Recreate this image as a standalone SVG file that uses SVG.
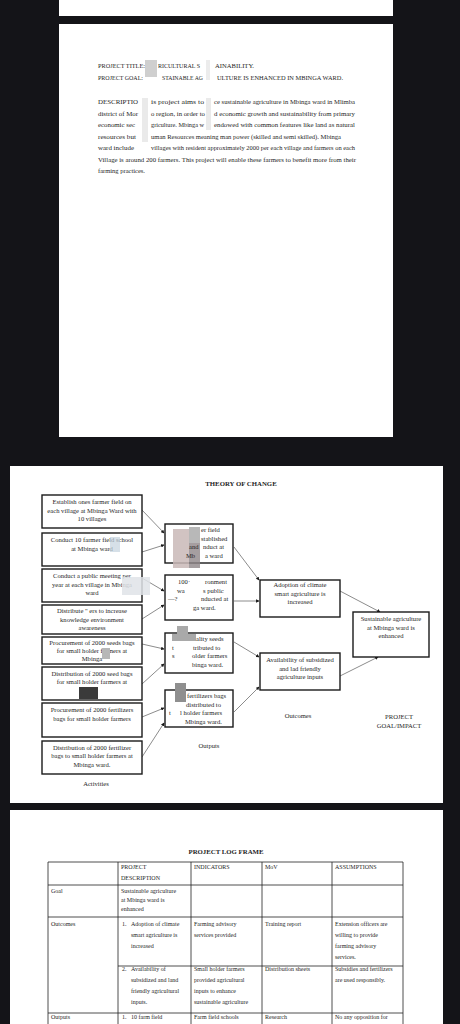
<svg xmlns="http://www.w3.org/2000/svg" width="460" height="1024" viewBox="0 0 460 1024">
<defs>
<style>
.pg{fill:#ffffff}
.t{font-family:"Liberation Serif","Times New Roman",serif;fill:#262626}
.p2{font-size:5.6px}
.b{font-size:6.6px;text-anchor:middle}
.bl{font-size:6.6px}
.hd{font-family:"Liberation Serif","Times New Roman",serif;font-weight:bold;font-size:6.8px;fill:#1e1e1e;text-anchor:middle}
.box{fill:#ffffff;stroke:#1a1a1a;stroke-width:1.4}
.con line{stroke:#6e6e6e;stroke-width:0.8;fill:none}
.tbl line{stroke:#222;stroke-width:0.8}
.tt{font-family:"Liberation Serif","Times New Roman",serif;font-size:6px;fill:#262626}
.blur{fill:#b9b9b9;opacity:0.75}
</style>
<marker id="ah" viewBox="0 0 6 6" refX="5" refY="3" markerWidth="3.5" markerHeight="3.5" orient="auto" markerUnits="userSpaceOnUse">
<path d="M0,0 L6,3 L0,6 z" fill="#1a1a1a"/>
</marker>
</defs>
<rect x="0" y="0" width="460" height="1024" fill="#141418"/>
<rect class="pg" x="59" y="0" width="334" height="16"/>
<rect class="pg" x="59" y="24" width="334" height="413"/>
<rect class="pg" x="10" y="466" width="433" height="337"/>
<rect class="pg" x="10" y="810" width="433" height="214"/>

<g id="page2-text">
<text class="t p2" x="98" y="68" textLength="47" lengthAdjust="spacingAndGlyphs">PROJECT TITLE:</text>
<text class="t p2" x="158" y="68" textLength="42" lengthAdjust="spacingAndGlyphs">RICULTURAL S</text>
<text class="t p2" x="215" y="68" textLength="39" lengthAdjust="spacingAndGlyphs">AINABILITY.</text>
<text class="t p2" x="98" y="80" textLength="45" lengthAdjust="spacingAndGlyphs">PROJECT GOAL:</text>
<text class="t p2" x="162" y="80" textLength="41" lengthAdjust="spacingAndGlyphs">STAINABLE AG</text>
<text class="t p2" x="217" y="80" textLength="126" lengthAdjust="spacingAndGlyphs">ULTURE IS ENHANCED IN MBINGA WARD.</text>
<rect x="145" y="60" width="12" height="17" fill="#cfcfcf"/>
<rect x="206" y="60" width="4" height="20" fill="#ececec"/>

<text class="t p2" x="98" y="104" textLength="40" lengthAdjust="spacingAndGlyphs">DESCRIPTIO</text>
<text class="t p2" x="151" y="104" textLength="53" lengthAdjust="spacingAndGlyphs">is project aims to</text>
<text class="t p2" x="214" y="104" textLength="141" lengthAdjust="spacingAndGlyphs">ce sustainable agriculture in Mbinga ward in Mlimba</text>
<text class="t p2" x="98" y="115.5" textLength="40" lengthAdjust="spacingAndGlyphs">district of Mor</text>
<text class="t p2" x="151" y="115.5" textLength="54" lengthAdjust="spacingAndGlyphs">o region, in order to</text>
<text class="t p2" x="214" y="115.5" textLength="141" lengthAdjust="spacingAndGlyphs">d economic growth and sustainability from primary</text>
<text class="t p2" x="98" y="127" textLength="37" lengthAdjust="spacingAndGlyphs">economic sec</text>
<text class="t p2" x="151" y="127" textLength="53" lengthAdjust="spacingAndGlyphs">griculture. Mbinga w</text>
<text class="t p2" x="214" y="127" textLength="141" lengthAdjust="spacingAndGlyphs">endowed with common features like land as natural</text>
<text class="t p2" x="98" y="138.5" textLength="38" lengthAdjust="spacingAndGlyphs">resources but</text>
<text class="t p2" x="151" y="138.5" textLength="190" lengthAdjust="spacingAndGlyphs">uman Resources meaning man power (skilled and semi skilled). Mbinga</text>
<text class="t p2" x="98" y="150" textLength="36" lengthAdjust="spacingAndGlyphs">ward include</text>
<text class="t p2" x="151" y="150" textLength="204" lengthAdjust="spacingAndGlyphs">villages with resident approximately 2000 per each village and farmers on each</text>
<text class="t p2" x="98" y="161.5" textLength="258" lengthAdjust="spacingAndGlyphs">Village is around 200 farmers. This project will enable these farmers to benefit more from their</text>
<text class="t p2" x="98" y="173" textLength="47" lengthAdjust="spacingAndGlyphs">farming practices.</text>
<rect x="142" y="98" width="6" height="44" fill="#dcdcdc" opacity="0.6"/>
<rect x="206" y="98" width="5" height="32" fill="#dcdcdc" opacity="0.6"/>
</g>

<text class="hd" x="241" y="486">THEORY OF CHANGE</text>

<g id="connectors" class="con">
<line x1="142" y1="510" x2="164" y2="533" marker-end="url(#ah)"/>
<line x1="142" y1="552" x2="164" y2="545" marker-end="url(#ah)"/>
<line x1="142" y1="578" x2="164" y2="591" marker-end="url(#ah)"/>
<line x1="142" y1="619" x2="164" y2="605" marker-end="url(#ah)"/>
<line x1="142" y1="644" x2="164" y2="649" marker-end="url(#ah)"/>
<line x1="142" y1="684" x2="164" y2="664" marker-end="url(#ah)"/>
<line x1="142" y1="717" x2="164" y2="708" marker-end="url(#ah)"/>
<line x1="142" y1="757" x2="164" y2="723" marker-end="url(#ah)"/>
<line x1="234" y1="547" x2="259" y2="580" marker-end="url(#ah)"/>
<line x1="234" y1="601" x2="259" y2="601" marker-end="url(#ah)"/>
<line x1="234" y1="642" x2="259" y2="657" marker-end="url(#ah)"/>
<line x1="234" y1="712" x2="259" y2="687" marker-end="url(#ah)"/>
<line x1="340" y1="591" x2="380" y2="612" marker-end="url(#ah)"/>
<line x1="340" y1="676" x2="378" y2="657" marker-end="url(#ah)"/>
</g>

<g id="act1"><rect class="box" x="42" y="495" width="100" height="33"/>
<text class="t b" x="92" y="504">Establish ones farmer  field on</text>
<text class="t b" x="92" y="512.5">each village  at Mbinga Ward with</text>
<text class="t b" x="92" y="521">10 villages</text></g>
<g id="act2"><rect class="box" x="42" y="533" width="100" height="33"/>
<text class="t b" x="92" y="542">Conduct  10  farmer field school</text>
<text class="t b" x="92" y="550.5">at Mbinga ward</text>
<rect x="110" y="537" width="10" height="15" fill="#c5d3de" opacity="0.7"/></g>
<g id="act3"><rect class="box" x="42" y="569" width="100" height="33"/>
<text class="t b" x="92" y="578">Conduct a public meeting per</text>
<text class="t b" x="92" y="586.5">year at  each village  in Mbinga</text>
<text class="t b" x="92" y="595">ward</text>
<rect x="122" y="577" width="28" height="18" fill="#dfe3e7" opacity="0.85"/></g>
<g id="act4"><rect class="box" x="42" y="605" width="100" height="29"/>
<text class="t b" x="92" y="613">Distribute  "  ers  to increase</text>
<text class="t b" x="92" y="621.5">knowledge  environment</text>
<text class="t b" x="92" y="629.5">awareness</text></g>
<g id="act5"><rect class="box" x="42" y="637" width="100" height="27"/>
<text class="t b" x="92" y="645">Procurement of  2000 seeds bags</text>
<text class="t b" x="92" y="653">for small holder farmers  at</text>
<text class="t b" x="92" y="661">Mbinga</text>
<rect x="102" y="648" width="8" height="11" fill="#b7b7b7"/></g>
<g id="act6"><rect class="box" x="42" y="667" width="100" height="33"/>
<text class="t b" x="92" y="675.5">Distribution of  2000 seed bags</text>
<text class="t b" x="92" y="684">for small  holder  farmers at</text>
<rect x="79" y="687" width="19" height="12" fill="#3a3a3a"/></g>
<g id="act7"><rect class="box" x="42" y="703" width="100" height="34"/>
<text class="t b" x="92" y="712">Procurement of  2000 fertilizers</text>
<text class="t b" x="92" y="720.5">bags  for  small holder farmers</text></g>
<g id="act8"><rect class="box" x="42" y="741" width="100" height="33"/>
<text class="t b" x="92" y="749.5">Distribution of 2000 fertilizer</text>
<text class="t b" x="92" y="758">bags  to small holder farmers at</text>
<text class="t b" x="92" y="766.5">Mbinga  ward.</text></g>
<text class="t b" x="96" y="786">Activities</text>

<g id="out1"><rect class="box" x="165" y="524" width="68" height="39"/>
<rect x="173" y="529" width="16" height="39" fill="#c9b9b7" opacity="0.85"/>
<rect x="189" y="527" width="11" height="41" fill="#8e8688" opacity="0.8"/>
<rect x="189" y="527" width="11" height="16" fill="#b8b8b8"/>
<text class="t bl" x="201" y="532">er field</text>
<text class="t bl" x="201" y="540.5">stablished</text>
<text class="t bl" x="189" y="549">and</text><text class="t bl" x="203" y="549">nduct at</text>
<text class="t bl" x="186" y="557.5">Mb</text><text class="t bl" x="205" y="557.5">a ward</text></g>
<g id="out2"><rect class="box" x="165" y="575" width="68" height="45"/>
<text class="t bl" x="178" y="584">100·</text><text class="t bl" x="205" y="584">ronment</text>
<text class="t bl" x="177" y="592.5">wa</text><text class="t bl" x="203" y="592.5">s public</text>
<text class="t bl" x="168" y="601">—?</text><text class="t bl" x="201" y="601">nducted at</text>
<text class="t bl" x="193" y="609.5">ga ward.</text></g>
<g id="out3"><rect class="box" x="165" y="633" width="68" height="40"/>
<rect x="177" y="626" width="11" height="15" fill="#a9a9a9"/>
<rect x="172" y="634" width="24" height="7" fill="#a9a9a9"/>
<text class="t bl" x="196" y="641">ality seeds</text>
<text class="t bl" x="172" y="649.5">t</text><text class="t bl" x="193" y="649.5">tributed to</text>
<text class="t bl" x="172" y="658">s</text><text class="t bl" x="192" y="658">older farmers</text>
<text class="t bl" x="192" y="666.5">binga ward.</text></g>
<g id="out4"><rect class="box" x="165" y="690" width="68" height="37"/>
<rect x="175" y="683" width="11" height="19" fill="#8f8f8f"/>
<text class="t bl" x="187" y="698">fertilizers bags</text>
<text class="t bl" x="186" y="706.5">distributed to</text>
<text class="t bl" x="169" y="715">t</text><text class="t bl" x="180" y="715">l holder farmers</text>
<text class="t bl" x="185" y="723.5">Mbinga ward.</text></g>
<text class="t b" x="209" y="748">Outputs</text>

<g id="outc1"><rect class="box" x="260" y="580" width="80" height="37"/>
<text class="t b" x="300" y="587">Adoption of climate</text>
<text class="t b" x="300" y="595.5">smart agriculture is</text>
<text class="t b" x="300" y="604">increased</text></g>
<g id="outc2"><rect class="box" x="260" y="653" width="80" height="37"/>
<text class="t b" x="300" y="662">Availability of subsidized</text>
<text class="t b" x="300" y="670.5">and lad friendly</text>
<text class="t b" x="300" y="679">agriculture inputs</text></g>
<text class="t b" x="298" y="718">Outcomes</text>

<g id="goal"><rect class="box" x="353" y="612" width="76" height="45"/>
<text class="t b" x="391" y="621">Sustainable  agriculture</text>
<text class="t b" x="391" y="629.5">at  Mbinga ward is</text>
<text class="t b" x="391" y="638">enhanced</text></g>
<text class="t b" x="399" y="719">PROJECT</text>
<text class="t b" x="399" y="727.5">GOAL/IMPACT</text>

<text class="hd" x="226" y="854">PROJECT LOG FRAME</text>
<g id="logframe">
<g class="tbl">
<line x1="48" y1="862" x2="403" y2="862"/>
<line x1="48" y1="885" x2="403" y2="885"/>
<line x1="48" y1="917" x2="403" y2="917"/>
<line x1="118" y1="966" x2="403" y2="966"/>
<line x1="48" y1="1013" x2="403" y2="1013"/>
<line x1="48" y1="862" x2="48" y2="1024"/>
<line x1="118" y1="862" x2="118" y2="1024"/>
<line x1="191" y1="862" x2="191" y2="1024"/>
<line x1="262" y1="862" x2="262" y2="1024"/>
<line x1="332" y1="862" x2="332" y2="1024"/>
<line x1="403" y1="862" x2="403" y2="1024"/>
</g>
<text class="tt" x="121" y="869">PROJECT</text>
<text class="tt" x="121" y="880">DESCRIPTION</text>
<text class="tt" x="194" y="869">INDICATORS</text>
<text class="tt" x="265" y="869">MoV</text>
<text class="tt" x="335" y="869">ASSUMPTIONS</text>
<text class="tt" x="51" y="893">Goal</text>
<text class="tt" x="121" y="893">Sustainable  agriculture</text>
<text class="tt" x="121" y="902">at Mbinga  ward is</text>
<text class="tt" x="121" y="911">enhanced</text>
<text class="tt" x="51" y="926">Outcomes</text>
<text class="tt" x="122" y="926">1.</text>
<text class="tt" x="131" y="926">Adoption of climate</text>
<text class="tt" x="131" y="937">smart agriculture is</text>
<text class="tt" x="131" y="948">increased</text>
<text class="tt" x="194" y="926">Farming advisory</text>
<text class="tt" x="194" y="937">services  provided</text>
<text class="tt" x="265" y="926">Training report</text>
<text class="tt" x="335" y="926">Extension officers are</text>
<text class="tt" x="335" y="937">willing to provide</text>
<text class="tt" x="335" y="948">farming advisory</text>
<text class="tt" x="335" y="959">services.</text>
<text class="tt" x="122" y="971">2.</text>
<text class="tt" x="131" y="971">Availability of</text>
<text class="tt" x="131" y="982">subsidized and land</text>
<text class="tt" x="131" y="993">friendly agricultural</text>
<text class="tt" x="131" y="1004">inputs.</text>
<text class="tt" x="194" y="971">Small holder farmers</text>
<text class="tt" x="194" y="982">provided agricultural</text>
<text class="tt" x="194" y="993">inputs to enhance</text>
<text class="tt" x="194" y="1004">sustainable agriculture</text>
<text class="tt" x="265" y="971">Distribution sheets</text>
<text class="tt" x="335" y="971">Subsidies and fertilizers</text>
<text class="tt" x="335" y="982">are used responsibly.</text>
<text class="tt" x="51" y="1019">Outputs</text>
<text class="tt" x="122" y="1019">1.</text>
<text class="tt" x="131" y="1019">10 farm  field</text>
<text class="tt" x="194" y="1019">Farm field schools</text>
<text class="tt" x="265" y="1019">Research</text>
<text class="tt" x="335" y="1019">No any opposition for</text>
</g>
</svg>
